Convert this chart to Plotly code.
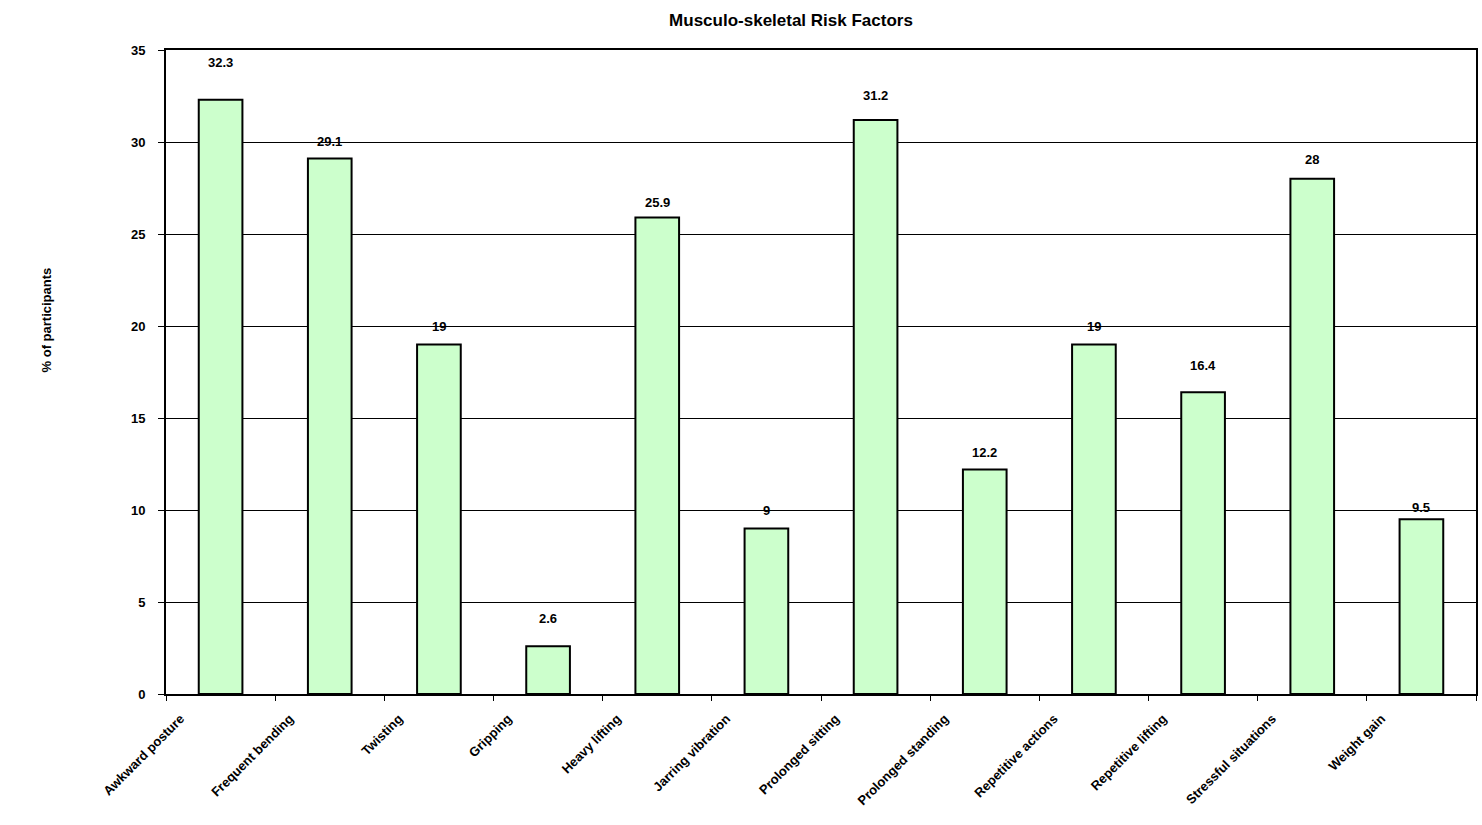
import plotly.graph_objects as go

# Risk factor categories and share of participants reporting each (%)
categories = [
    "Awkward posture", "Frequent bending", "Twisting", "Gripping",
    "Heavy lifting", "Jarring vibration", "Prolonged sitting",
    "Prolonged standing", "Repetitive actions", "Repetitive lifting",
    "Stressful situations", "Weight gain",
]
percent = [32.3, 29.1, 19, 2.6, 25.9, 9, 31.2, 12.2, 19, 16.4, 28, 9.5]

# Vertical pixel offset of each value label above its bar
label_lift = [37, 17, 18, 28, 15, 18, 24, 17, 18, 27, 19, 12]

FONT = "Liberation Sans, Arial, sans-serif"

fig = go.Figure()
fig.add_bar(
    x=categories,
    y=percent,
    marker=dict(color="#CCFFCC", line=dict(color="black", width=2)),
    hoverinfo="x+y",
)

for cat, val, lift in zip(categories, percent, label_lift):
    fig.add_annotation(
        x=cat, y=val, text=f"<b>{val:g}</b>", showarrow=False,
        yshift=lift, yanchor="middle",
        font=dict(family=FONT, size=13, color="black"),
    )

fig.add_annotation(
    xref="paper", yref="paper", x=0, y=0.58, xshift=-120,
    xanchor="center", yanchor="middle",
    text="<b>% of participants</b>", textangle=-90, showarrow=False,
    font=dict(family=FONT, size=13, color="black"),
)

fig.update_layout(
    width=1482, height=825,
    margin=dict(l=166, r=4, t=50, b=131),
    paper_bgcolor="white", plot_bgcolor="white",
    showlegend=False,
    bargap=0.6,
    title=dict(
        text="<b>Musculo-skeletal Risk Factors</b>",
        x=791 / 1482, xanchor="center", y=1 - 20 / 825, yanchor="middle",
        font=dict(family=FONT, size=17, color="black"),
    ),
    font=dict(family=FONT, color="black"),
)

fig.update_xaxes(
    type="category",
    tickangle=-45,
    tickfont=dict(family=FONT, size=13, color="black", weight="bold"),
    tickson="boundaries", ticks="outside", ticklen=5, tickcolor="black",
    ticklabelshift=-40, ticklabelstandoff=10,
    showline=True, linecolor="black", linewidth=2, mirror=True,
    showgrid=False,
)
fig.update_yaxes(
    range=[0, 35], dtick=5,
    tickfont=dict(family=FONT, size=13, color="black", weight="bold"),
    ticks="outside", ticklen=6, tickcolor="black",
    ticklabelstandoff=10,
    showline=True, linecolor="black", linewidth=2, mirror=True,
    showgrid=True, gridcolor="black", gridwidth=1,
    zeroline=False,
)

fig.write_html("out.html")
